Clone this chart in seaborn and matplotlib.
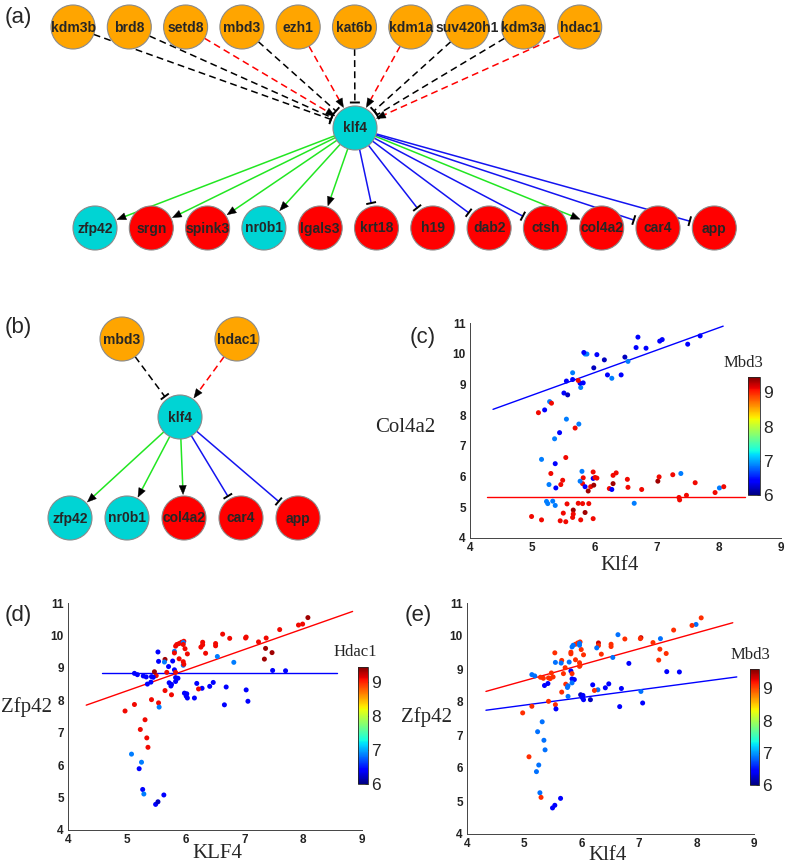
import numpy as np
import pandas as pd
import matplotlib
matplotlib.use("Agg")
import matplotlib.pyplot as plt
import seaborn as sns
from matplotlib.patches import Circle, Polygon
from matplotlib.cm import ScalarMappable
from matplotlib.colors import Normalize

# ---------------- network data ----------------
a_regulators = ['kdm3b', 'brd8', 'setd8', 'mbd3', 'ezh1', 'kat6b', 'kdm1a', 'suv420h1', 'kdm3a', 'hdac1']
a_reg_effect = ['inhibit', 'inhibit', 'activate', 'inhibit', 'activate', 'inhibit', 'activate', 'inhibit', 'inhibit', 'activate']
a_targets = ['zfp42', 'srgn', 'spink3', 'nr0b1', 'lgals3', 'krt18', 'h19', 'dab2', 'ctsh', 'col4a2', 'car4', 'app']
a_tgt_effect = ['activate', 'activate', 'activate', 'activate', 'activate', 'inhibit', 'inhibit', 'inhibit', 'inhibit', 'activate', 'inhibit', 'inhibit']
a_tgt_group = ['up', 'down', 'down', 'up', 'down', 'down', 'down', 'down', 'down', 'down', 'down', 'down']

b_regulators = ['mbd3', 'hdac1']
b_reg_effect = ['inhibit', 'activate']
b_targets = ['zfp42', 'nr0b1', 'col4a2', 'car4', 'app']
b_tgt_effect = ['activate', 'activate', 'activate', 'inhibit', 'inhibit']
b_tgt_group = ['up', 'up', 'down', 'down', 'down']

# ---------------- scatter data ----------------
# panel (c): Klf4 vs Col4a2, coloured by Mbd3
klf4_c = [7.70, 7.50, 7.09, 7.05, 6.83, 6.70, 6.67, 6.54, 6.49, 6.43, 6.28, 6.21, 6.16, 6.04, 5.99, 5.88, 5.85, 5.83,
          5.82, 5.78, 5.77, 5.74, 5.65, 5.65, 5.55, 5.51, 5.57, 5.28, 5.31, 5.20, 5.10, 5.55, 5.75, 5.69, 5.44, 5.36,
          5.15, 5.37, 5.54, 5.30, 5.27, 5.38, 5.49, 5.46, 5.23, 5.25, 5.33, 5.37, 5.56, 5.50, 5.66, 5.66, 5.65, 5.45,
          5.54, 5.78, 5.98, 5.85, 5.74, 5.81, 5.91, 4.99, 5.15, 5.80, 5.82, 5.81, 5.77, 5.85, 5.94, 5.99, 5.98, 5.98,
          6.01, 6.04, 5.90, 6.24, 6.28, 6.30, 6.35, 6.30, 6.53, 6.54, 6.64, 6.76, 7.02, 7.04, 7.26, 7.39, 7.62, 7.36,
          7.37, 7.48, 7.94, 8.01, 8.08]
col4a2_c = [10.58, 10.31, 10.46, 10.41, 10.18, 10.54, 10.20, 9.75, 9.89, 9.31, 9.20, 9.31, 9.80, 9.97, 9.54, 9.99, 9.99, 10.04,
            9.05, 8.90, 9.04, 9.13, 9.38, 9.16, 9.11, 8.72, 8.66, 8.44, 8.39, 8.17, 8.08, 7.87, 7.71, 7.58, 7.43, 7.23,
            6.56, 6.42, 6.62, 6.10, 5.74, 5.63, 5.88, 5.74, 5.19, 5.12, 5.20, 5.06, 5.11, 4.81, 4.91, 4.78, 4.67, 4.56,
            4.53, 4.59, 4.63, 4.83, 5.13, 5.12, 5.12, 4.70, 4.59, 6.17, 5.96, 5.77, 5.85, 5.67, 5.67, 5.72, 6.15, 5.94,
            5.97, 5.95, 5.53, 5.61, 5.58, 6.04, 6.12, 5.77, 5.91, 5.65, 5.13, 5.58, 5.85, 5.99, 6.06, 6.10, 5.80, 5.32,
            5.24, 5.39, 5.48, 5.63, 5.67]
mbd3_c = [6.4, 6.4, 6.4, 6.4, 6.4, 6.4, 6.4, 6.85, 6.2, 6.4, 6.85, 6.4, 6.2, 6.4, 6.2, 6.85, 6.85, 6.4,
          6.4, 6.85, 6.4, 9.1, 6.85, 6.4, 6.4, 6.4, 6.2, 6.85, 9.1, 6.4, 9.1, 6.85, 6.85, 9.1, 6.4, 6.85,
          6.85, 6.4, 9.1, 9.1, 6.85, 6.4, 9.1, 9.1, 6.85, 6.85, 6.85, 6.85, 9.1, 9.1, 9.35, 9.1, 9.1, 9.1,
          9.1, 9.1, 9.1, 9.35, 9.1, 9.1, 9.1, 9.1, 9.1, 6.85, 9.1, 9.1, 6.85, 6.4, 9.1, 9.35, 9.1, 6.4,
          9.1, 9.1, 9.35, 9.1, 6.4, 9.1, 9.1, 9.35, 9.1, 9.1, 6.85, 9.1, 9.35, 9.1, 9.1, 6.85, 9.1, 9.1,
          9.1, 9.1, 9.1, 6.85, 9.1]

# panels (d) and (e): Klf4 vs Zfp42, coloured by Hdac1 (d) and Mbd3 (e)
klf4_de = [8.08, 7.99, 7.92, 7.60, 7.03, 7.02, 6.75, 6.63, 7.24, 7.37, 7.36, 7.47, 7.34, 7.48, 7.70, 6.82, 6.54, 6.51,
           6.51, 6.29, 6.29, 6.26, 6.34, 6.19, 6.28, 6.22, 6.41, 6.47, 6.69, 6.66, 7.03, 7.06, 6.15, 6.03, 5.99, 5.97,
           5.93, 5.89, 5.85, 5.83, 5.96, 5.96, 5.81, 5.81, 5.78, 5.89, 5.96, 5.96, 5.97, 5.81, 5.83, 5.71, 5.68, 5.65,
           5.64, 5.54, 5.53, 5.83, 5.87, 5.83, 5.72, 5.76, 5.75, 5.65, 5.76, 5.98, 6.02, 6.01, 6.03, 5.54, 5.55, 5.50,
           5.47, 5.42, 5.45, 5.41, 5.35, 5.33, 5.28, 5.18, 5.13, 5.42, 5.13, 4.97, 5.31, 5.23, 5.34, 5.36, 5.08, 5.25,
           5.21, 5.27, 5.29, 5.63, 5.49, 5.53]
zfp42_de = [10.55, 10.35, 10.32, 10.18, 9.95, 9.92, 9.91, 10.04, 9.80, 9.92, 9.60, 9.47, 9.27, 8.92, 8.91, 9.17, 9.35, 9.75,
            9.68, 9.79, 9.71, 9.64, 9.45, 8.52, 8.37, 8.35, 8.43, 8.55, 8.41, 7.86, 8.32, 7.97, 8.07, 9.43, 9.59, 9.82,
            9.79, 9.75, 9.72, 9.67, 9.78, 9.72, 9.51, 9.46, 9.21, 9.28, 9.19, 9.08, 9.11, 8.94, 8.86, 9.04, 8.86, 9.26,
            9.18, 9.20, 9.49, 8.70, 8.68, 8.58, 8.54, 8.49, 8.44, 8.30, 8.17, 8.22, 8.20, 8.13, 8.07, 7.92, 7.79, 8.76,
            8.88, 8.73, 8.71, 8.56, 8.50, 8.72, 8.75, 8.79, 8.83, 8.02, 7.87, 7.67, 7.40, 7.10, 6.84, 6.55, 6.34, 6.09,
            5.89, 5.25, 5.11, 5.08, 4.79, 4.87]
mbd3_de = [9.1, 6.85, 9.1, 9.1, 9.35, 9.1, 9.1, 6.85, 9.1, 6.85, 9.1, 9.1, 9.1, 6.4, 6.4, 6.4, 6.85, 9.1,
           9.1, 9.35, 9.1, 6.85, 9.1, 6.4, 6.85, 9.1, 6.4, 6.4, 6.4, 6.4, 6.85, 6.4, 6.2, 9.1, 9.1, 9.1,
           9.1, 9.1, 6.85, 6.85, 6.85, 6.85, 9.1, 9.1, 6.85, 9.1, 9.1, 9.1, 9.1, 6.4, 9.1, 9.1, 9.1, 9.1,
           6.85, 6.85, 9.1, 6.4, 6.4, 6.85, 9.1, 6.85, 6.85, 9.1, 6.85, 6.2, 6.4, 6.4, 6.4, 9.1, 6.4, 9.1,
           9.1, 9.1, 9.1, 6.4, 6.4, 9.1, 9.1, 6.85, 6.85, 9.1, 9.1, 9.1, 6.85, 6.85, 6.85, 6.85, 9.1, 6.85,
           6.85, 6.85, 9.1, 6.4, 6.4, 6.4]
hdac1_de = [9.35, 9.1, 9.1, 9.1, 9.1, 9.1, 9.1, 9.1, 9.1, 9.1, 9.35, 9.35, 9.35, 6.4, 6.4, 6.85, 6.85, 9.1,
            9.1, 9.1, 9.1, 9.1, 9.1, 6.4, 6.4, 9.1, 6.4, 6.4, 6.4, 6.4, 6.4, 6.4, 6.4, 9.1, 9.1, 9.1,
            9.1, 9.1, 9.1, 9.1, 6.85, 9.1, 6.85, 9.1, 6.4, 9.1, 9.1, 6.85, 9.1, 6.4, 9.1, 6.4, 9.1, 9.35,
            6.85, 6.4, 6.4, 6.4, 6.4, 6.4, 6.4, 6.4, 6.4, 9.1, 9.1, 6.4, 6.4, 6.4, 6.4, 9.1, 6.85, 9.1,
            9.35, 6.4, 6.4, 6.4, 6.4, 6.4, 6.4, 6.4, 6.4, 9.1, 9.1, 9.1, 9.1, 9.1, 9.1, 9.1, 6.85, 6.85,
            6.4, 6.4, 6.85, 6.4, 6.4, 6.2]

# fitted lines: (x_start, x_end, slope, intercept)
fit_c_low = (4.37, 8.07, 0.732, 4.99)
fit_c_high = (4.28, 8.42, 0.0, 5.35)
fit_d_high = (4.31, 8.84, 0.638, 5.10)
fit_d_low = (4.58, 8.58, 0.0, 8.85)
fit_e_high = (4.33, 8.63, 0.484, 6.225)
fit_e_low = (4.33, 8.70, 0.231, 6.75)

# ---------------- styling / layout ----------------
sns.set_style("white")
plt.rcParams['font.family'] = ['Liberation Sans', 'DejaVu Sans']
JET = matplotlib.colormaps['jet']

W, H = 787, 866
fig = plt.figure(figsize=(W / 100, H / 100), dpi=100)


def px_rect(l, t, r, b):
    return [l / W, 1 - b / H, (r - l) / W, (b - t) / H]


ORANGE = '#FFA500'
CYAN = '#00D4D4'
RED = '#FF0000'
GROUP_COL = {'up': CYAN, 'down': RED}
GREEN = '#22E622'
BLUE = '#1414F0'
R_NODE = 22


def draw_node(ax, x, y, name, color):
    ax.add_patch(Circle((x, y), R_NODE, facecolor=color, edgecolor='#8a8a8a', lw=0.8, zorder=3))
    ax.text(x, y + 0.5, name, ha='center', va='center', fontsize=10, fontweight='bold',
            family='Liberation Sans', zorder=4)


def draw_edge(ax, p, q, color, dashed, kind):
    p = np.array(p, float)
    q = np.array(q, float)
    d = q - p
    u = d / np.hypot(*d)
    n = np.array([-u[1], u[0]])
    start = p + u * R_NODE
    tip = q - u * (R_NODE + 1.5)
    ls = (0, (4.5, 2.8)) if dashed else '-'
    if kind == 'activate':
        base = tip - u * 9
        ax.plot([start[0], base[0]], [start[1], base[1]], color=color, lw=1.1, ls=ls, zorder=2)
        tri = [tip, base + n * 3.6, base - n * 3.6]
        ax.add_patch(Polygon(tri, closed=True, facecolor='black', edgecolor='black', lw=0.3, zorder=2.5))
    else:
        end = tip - u * 2
        ax.plot([start[0], end[0]], [start[1], end[1]], color=color, lw=1.1, ls=ls, zorder=2)
        a = end + n * 5
        b = end - n * 5
        ax.plot([a[0], b[0]], [a[1], b[1]], color='black', lw=1.4, zorder=2.5, solid_capstyle='butt')


def draw_network(ax, regs, reg_eff, tgts, tgt_eff, tgt_grp, hub, top_x0, top_dx, top_y, bot_x0, bot_dx, bot_y):
    for i, (name, eff) in enumerate(zip(regs, reg_eff)):
        pos = (top_x0 + i * top_dx, top_y)
        draw_edge(ax, pos, hub, RED if eff == 'activate' else 'black', True, eff)
        draw_node(ax, pos[0], pos[1], name, ORANGE)
    for i, (name, eff, grp) in enumerate(zip(tgts, tgt_eff, tgt_grp)):
        pos = (bot_x0 + i * bot_dx, bot_y)
        draw_edge(ax, hub, pos, GREEN if eff == 'activate' else BLUE, False, eff)
        draw_node(ax, pos[0], pos[1], name, GROUP_COL[grp])
    draw_node(ax, hub[0], hub[1], 'klf4', CYAN)


def scatter_panel(rect, xs, ys, cs, vmax, fits, cax_rect):
    ax = fig.add_axes(px_rect(*rect))
    df = pd.DataFrame({'x': xs, 'y': ys, 'c': cs})
    sns.scatterplot(data=df, x='x', y='y', hue='c', palette=JET, hue_norm=(6, vmax), s=13,
                    linewidth=0, legend=False, ax=ax, zorder=3)
    for (x0, x1, slope, icpt), col in fits:
        xx = np.array([x0, x1])
        ax.plot(xx, slope * xx + icpt, color=col, lw=1.0, zorder=2)
    ax.set_xlim(4, 9)
    ax.set_ylim(4, 11)
    ax.set_xticks(range(4, 10))
    ax.set_yticks(range(4, 12))
    ax.set_xlabel('')
    ax.set_ylabel('')
    ax.tick_params(direction='in', length=3, width=0.6, labelsize=8.5, pad=3, colors='#222222')
    for lab in ax.get_xticklabels() + ax.get_yticklabels():
        lab.set_fontweight('bold')
    sns.despine(ax=ax)
    for sp in ['left', 'bottom']:
        ax.spines[sp].set_linewidth(0.7)
        ax.spines[sp].set_color('#444444')
    ax.set_facecolor('none')
    cax = fig.add_axes(px_rect(*cax_rect))
    sm = ScalarMappable(norm=Normalize(6, vmax), cmap=JET)
    cb = fig.colorbar(sm, cax=cax, ticks=[6, 7, 8, 9])
    cb.ax.tick_params(labelsize=12.5, direction='in', length=2.5, width=0.5, pad=2)
    cb.outline.set_linewidth(0.6)
    return ax


scatter_panel((470, 323, 781, 538), klf4_c, col4a2_c, mbd3_c, 9.45,
              [(fit_c_low, 'blue'), (fit_c_high, 'red')], (748, 377, 760, 495))
scatter_panel((68, 603, 362, 830), klf4_de, zfp42_de, hdac1_de, 9.45,
              [(fit_d_high, 'red'), (fit_d_low, 'blue')], (358, 667, 368, 784))
scatter_panel((467, 603, 754, 834), klf4_de, zfp42_de, mbd3_de, 9.6,
              [(fit_e_high, 'red'), (fit_e_low, 'blue')], (750, 669, 759, 785))

# overlay axes in pixel coordinates for networks and labels
ax0 = fig.add_axes([0, 0, 1, 1], zorder=10)
ax0.set_xlim(0, W)
ax0.set_ylim(H, 0)
ax0.set_facecolor('none')
ax0.axis('off')

draw_network(ax0, a_regulators, a_reg_effect, a_targets, a_tgt_effect, a_tgt_group,
             (355, 128), 73, 56.3, 27, 95, 56.3, 228)
draw_network(ax0, b_regulators, b_reg_effect, b_targets, b_tgt_effect, b_tgt_group,
             (180, 417), 122, 115, 339, 70, 57, 518)

for lbl, (x, y) in {'(a)': (18, 17), '(b)': (18, 328), '(c)': (423, 337), '(d)': (18, 615), '(e)': (418, 615)}.items():
    ax0.text(x, y, lbl, ha='center', va='center', fontsize=16, family='Liberation Sans')

serif = dict(family='Liberation Serif', ha='center', va='center')
ax0.text(405, 427, 'Col4a2', fontsize=15, **serif)
ax0.text(620, 565, 'Klf4', fontsize=15, **serif)
ax0.text(743, 363, 'Mbd3', fontsize=12, **serif)
ax0.text(27, 707, 'Zfp42', fontsize=15, **serif)
ax0.text(217, 853, 'KLF4', fontsize=15, **serif)
ax0.text(355, 652, 'Hdac1', fontsize=12, **serif)
ax0.text(427, 717, 'Zfp42', fontsize=15, **serif)
ax0.text(608, 855, 'Klf4', fontsize=15, **serif)
ax0.text(750, 655, 'Mbd3', fontsize=12, **serif)

fig.savefig('out.png', dpi=100)
